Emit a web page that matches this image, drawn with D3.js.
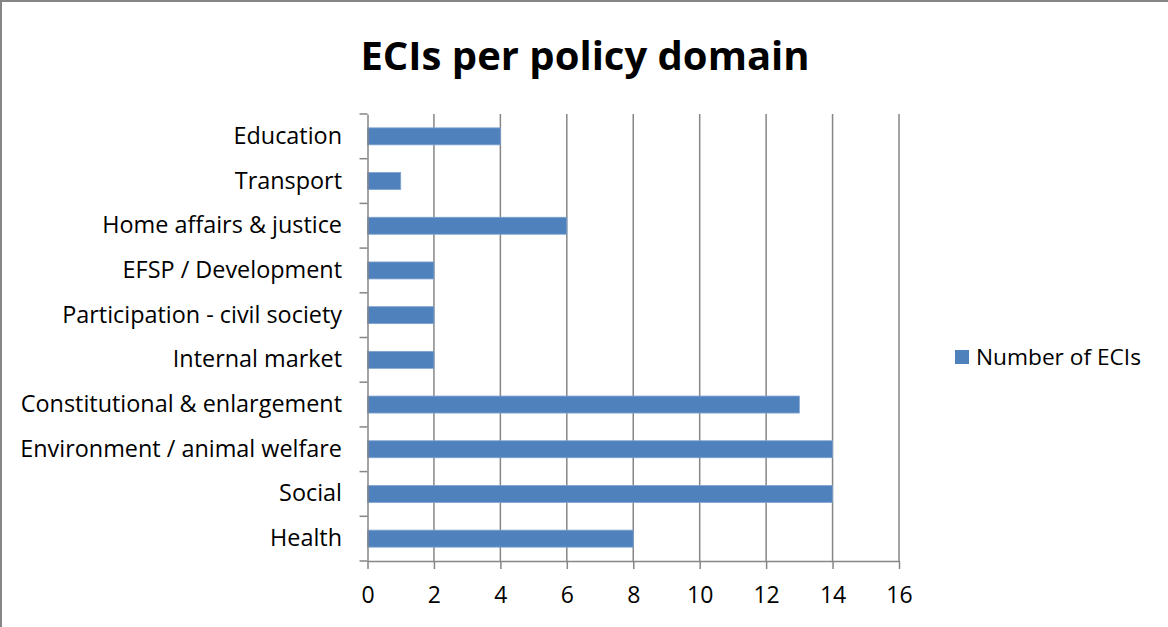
<!DOCTYPE html>
<html><head><meta charset="utf-8">
<script src="https://cdn.jsdelivr.net/npm/d3@7"></script>
<style>body{margin:0;background:#fff}svg{display:block}</style>
</head><body>
<svg id="c" width="1168" height="627"></svg>
<script>
const categories = ["Education","Transport","Home affairs & justice","EFSP / Development","Participation - civil society","Internal market","Constitutional & enlargement","Environment / animal welfare","Social","Health"];
const values = [4,1,6,2,2,2,13,14,14,8];
const xTicks = [0,2,4,6,8,10,12,14,16];
const seriesName = "Number of ECIs";
const title = "ECIs per policy domain";

const font = "Open Sans, Lato, sans-serif";
const svg = d3.select("#c");
svg.append("rect").attr("x",1).attr("y",1).attr("width",1180).attr("height",640)
  .attr("fill","#fff").attr("stroke","#868686").attr("stroke-width",2);

const L=367.5, R=899, T=114, B=561;
const x = d3.scaleLinear().domain([0,16]).range([L,R]);
const y = d3.scaleBand().domain(categories).range([T,B]).paddingInner(0.62).paddingOuter(0.31);
const yb = d3.scaleBand().domain(categories).range([T,B]);

// gridlines
svg.append("g").selectAll("line").data(xTicks.slice(1)).join("line")
  .attr("x1",d=>x(d)).attr("x2",d=>x(d)).attr("y1",T).attr("y2",B)
  .attr("stroke","#868686").attr("stroke-width",1.5);

// bars
svg.append("g").selectAll("rect").data(values).join("rect")
  .attr("x",x(0)).attr("y",(d,i)=>y(categories[i]))
  .attr("width",d=>x(d)-x(0)).attr("height",y.bandwidth())
  .attr("fill","#4F81BD").attr("stroke","#7fa3cf").attr("stroke-width",0.8);

// x axis
const xa = svg.append("g").attr("transform",`translate(0,${B})`)
  .call(d3.axisBottom(x).tickValues(xTicks).tickSize(8).tickPadding(17.5).tickSizeOuter(0));
xa.select(".domain").attr("stroke","#868686").attr("stroke-width",1.5);
xa.selectAll(".tick line").attr("stroke","#868686").attr("stroke-width",1.5);
xa.selectAll("text").attr("font-family",font).attr("font-size",23).attr("fill","#000");

// y axis
const ya = svg.append("g").attr("transform",`translate(${L},0)`)
  .call(d3.axisLeft(yb).tickSize(0).tickPadding(25.5));
ya.select(".domain").attr("stroke","#868686").attr("stroke-width",1.5);
ya.selectAll("text").attr("font-family",font).attr("font-size",23.4).attr("fill","#000");
// category boundary ticks
svg.append("g").selectAll("line").data(d3.range(categories.length+1)).join("line")
  .attr("x1",L-8).attr("x2",L).attr("y1",i=>T+i*yb.step()).attr("y2",i=>T+i*yb.step())
  .attr("stroke","#868686").attr("stroke-width",1.5);

// title
svg.append("text").attr("x",585).attr("y",70).attr("text-anchor","middle")
  .attr("font-family",font).attr("font-weight","bold").attr("font-size",40).text(title);

// legend
svg.append("rect").attr("x",955).attr("y",350).attr("width",14).attr("height",14).attr("fill","#4F81BD");
svg.append("text").attr("x",976).attr("y",365).attr("font-family",font).attr("font-size",22.7).text(seriesName);
</script>
</body></html>
